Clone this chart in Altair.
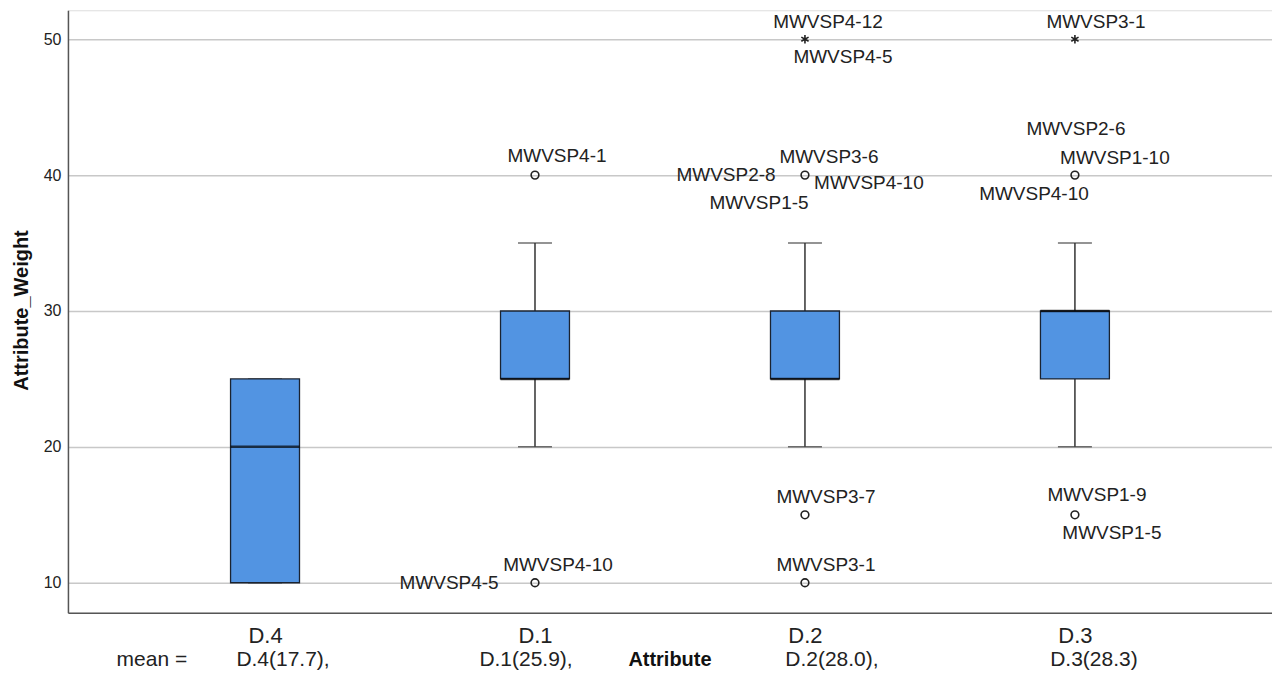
import altair as alt
import pandas as pd

# ---- data ----
categories = ["D.4", "D.1", "D.2", "D.3"]
q1 = [10, 25, 25, 25]
median = [20, 25, 25, 30]
q3 = [25, 30, 30, 30]
whisker_low = [10, 20, 20, 20]
whisker_high = [25, 35, 35, 35]

outlier_cat = ["D.1", "D.1", "D.2", "D.2", "D.2", "D.3", "D.3"]
outlier_val = [40, 10, 40, 15, 10, 40, 15]
extreme_cat = ["D.2", "D.3"]
extreme_val = [50, 50]

label_cat = ["D.1", "D.1", "D.1",
             "D.2", "D.2", "D.2", "D.2", "D.2", "D.2", "D.2", "D.2",
             "D.3", "D.3", "D.3", "D.3", "D.3", "D.3"]
label_val = [40, 10, 10,
             50, 50, 40, 40, 40, 40, 15, 10,
             50, 40, 40, 40, 15, 15]
label_text = ["MWVSP4-1", "MWVSP4-10", "MWVSP4-5",
              "MWVSP4-12", "MWVSP4-5", "MWVSP3-6", "MWVSP2-8", "MWVSP4-10", "MWVSP1-5", "MWVSP3-7", "MWVSP3-1",
              "MWVSP3-1", "MWVSP2-6", "MWVSP1-10", "MWVSP4-10", "MWVSP1-9", "MWVSP1-5"]
# label placement offsets (pixels) relative to the marker
label_dx = [22, 23, -86,
            23, 38, 24, -79, 64, -46, 21, 21,
            21, 1, 40, -41, 22, 37]
label_dy = [-19, -18, 0,
            -17, 18, -18, 0, 8, 28, -18, -18,
            -17, -46, -17, 19, -20, 18]

mean_text = ["D.4(17.7),", "D.1(25.9),", "D.2(28.0),", "D.3(28.3)"]
mean_dx = [18, -9, 27, 19]

FONT = "Liberation Sans"

box_df = pd.DataFrame({
    "cat": categories, "q1": q1, "median": median, "q3": q3,
    "lo": whisker_low, "hi": whisker_high,
})
out_df = pd.DataFrame({"cat": outlier_cat, "val": outlier_val})
ext_df = pd.DataFrame({"cat": extreme_cat, "val": extreme_val})

xs = alt.Scale(type="point", domain=categories, padding=0.73)
ys = alt.Scale(domain=[7.79, 52.13], nice=False, zero=False)

X = alt.X("cat:N", scale=xs, sort=categories,
          axis=alt.Axis(title="Attribute", labelAngle=0, ticks=False,
                        labelFontSize=22, labelFont=FONT, labelColor="#222",
                        labelBaseline="middle", labelPadding=23,
                        titleFont=FONT, titleFontSize=20, titleFontWeight="bold",
                        titleColor="#111", titleX=602, titleY=47,
                        titleBaseline="middle",
                        domainColor="#555", domainWidth=1.5, grid=False))
Y_axis = alt.Axis(title="Attribute_Weight", values=[10, 20, 30, 40, 50],
                  grid=True, gridColor="#c8c8c8", gridWidth=1.5, ticks=False,
                  labelFontSize=16, labelFont=FONT, labelColor="#222",
                  labelPadding=7, domainColor="#555", domainWidth=1.5,
                  titleFont=FONT, titleFontSize=20, titleFontWeight="bold",
                  titleColor="#111", titleX=-46, titleY=300, titleAngle=270,
                  titleAlign="center", titleBaseline="middle")

base = alt.Chart(box_df)

whisk_low = base.mark_rule(color="#333", strokeWidth=1.5).encode(
    x=X, y=alt.Y("lo:Q", scale=ys, axis=Y_axis), y2="q1:Q")
whisk_high = base.mark_rule(color="#333", strokeWidth=1.5).encode(
    x=X, y=alt.Y("q3:Q", scale=ys), y2="hi:Q")
cap_low = base.mark_tick(color="#333", thickness=1.5, size=34).encode(
    x=X, y=alt.Y("lo:Q", scale=ys))
cap_high = base.mark_tick(color="#333", thickness=1.5, size=34).encode(
    x=X, y=alt.Y("hi:Q", scale=ys))
box = base.mark_bar(size=69, color="#5294e2", stroke="#1b2330",
                    strokeWidth=1.3).encode(
    x=X, y=alt.Y("q1:Q", scale=ys), y2="q3:Q")
med = base.mark_tick(color="#000", thickness=2.5, size=69).encode(
    x=X, y=alt.Y("median:Q", scale=ys))

outs = alt.Chart(out_df).mark_point(
    shape="circle", filled=False, color="#222", strokeWidth=1.6, size=60,
    opacity=1).encode(x=X, y=alt.Y("val:Q", scale=ys))

star_path = ("M0,-1L0,1M-0.87,-0.5L0.87,0.5M-0.87,0.5L0.87,-0.5")
exts = alt.Chart(ext_df).mark_point(
    shape=star_path, filled=False, color="#222", strokeWidth=1.6, size=70,
    opacity=1).encode(x=X, y=alt.Y("val:Q", scale=ys))

layers = [whisk_low, whisk_high, cap_low, cap_high, box, med, outs, exts]

for c, v, t, dx, dy in zip(label_cat, label_val, label_text, label_dx, label_dy):
    df = pd.DataFrame({"cat": [c], "val": [v], "txt": [t]})
    layers.append(
        alt.Chart(df).mark_text(font=FONT, fontSize=19, color="#222",
                                align="center", baseline="middle",
                                dx=dx, dy=dy).encode(
            x=X, y=alt.Y("val:Q", scale=ys), text="txt:N"))

for c, t, dx in zip(categories, mean_text, mean_dx):
    df = pd.DataFrame({"cat": [c], "txt": [t]})
    layers.append(
        alt.Chart(df).mark_text(font=FONT, fontSize=21, color="#222",
                                align="center", baseline="middle",
                                dx=dx).encode(
            x=X, y=alt.value(650), text="txt:N"))

mean_lbl = alt.Chart(pd.DataFrame({"txt": ["mean ="]})).mark_text(
    font=FONT, fontSize=21, color="#222", align="center",
    baseline="middle").encode(x=alt.value(84), y=alt.value(650), text="txt:N")
layers.append(mean_lbl)

chart = alt.layer(*layers).properties(
    width=1205, height=603,
    autosize=alt.AutoSizeParams(type="none"),
    padding={"left": 60, "top": 2, "right": 0, "bottom": 59},
).configure_view(stroke=None).configure(background="white")

chart.save("out.html", embed_options={"renderer": "svg", "actions": False})
